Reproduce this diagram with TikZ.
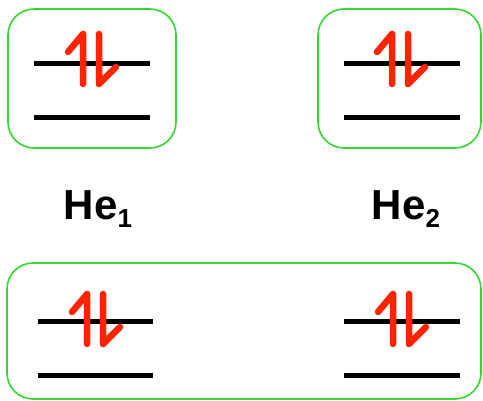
\documentclass[tikz,border=0pt]{standalone}
\usepackage{fontspec}
\setmainfont{Liberation Sans}
\begin{document}
\begin{tikzpicture}[x=1pt,y=-1pt,
  grp/.style={draw=boxgreen, line width=1.6pt, rounded corners=26pt, inner sep=0pt},
  lvl/.style={line width=5pt, black},
  spin/.style={draw=spinred, line width=6.5pt, line cap=round, line join=round},
  lab/.style={font=\fontsize{42}{44}\selectfont\bfseries, inner sep=0pt, anchor=base},
  spins/.pic={
    \draw[spin] (-8,51) -- (-8,1) -- (-23,19);
    \draw[spin] (8,1) -- (8,51) -- (25,34);
  }]
\definecolor{boxgreen}{RGB}{50,215,50}
\definecolor{spinred}{RGB}{255,35,0}
\newcommand\lowsub[1]{\raisebox{-8pt}{\fontsize{26}{28}\selectfont #1}}
\useasboundingbox (0,0) rectangle (483,401);
\node[grp, minimum width=168pt, minimum height=139pt] (box1) at (92,78.5) {};
\node[grp, minimum width=163pt, minimum height=139pt] (box2) at (399.5,78.5) {};
\node[grp, minimum width=474pt, minimum height=136pt] (box3) at (244,331) {};
% levels
\draw[lvl] (34,64) -- (150,64);
\draw[lvl] (34,118) -- (150,118);
\draw[lvl] (344,64) -- (460,64);
\draw[lvl] (344,118) -- (460,118);
\draw[lvl] (38,322) -- (153,322);
\draw[lvl] (38,376) -- (153,376);
\draw[lvl] (344,322) -- (460,322);
\draw[lvl] (344,376) -- (460,376);
% spins
\pic at (91,33) {spins};
\pic at (400,33) {spins};
\pic at (95,293) {spins};
\pic at (401,293) {spins};
% labels
\node[lab] (he1) at (98,220) {He\lowsub{1}};
\node[lab] (he2) at (406,220) {He\lowsub{2}};
\end{tikzpicture}
\end{document}
